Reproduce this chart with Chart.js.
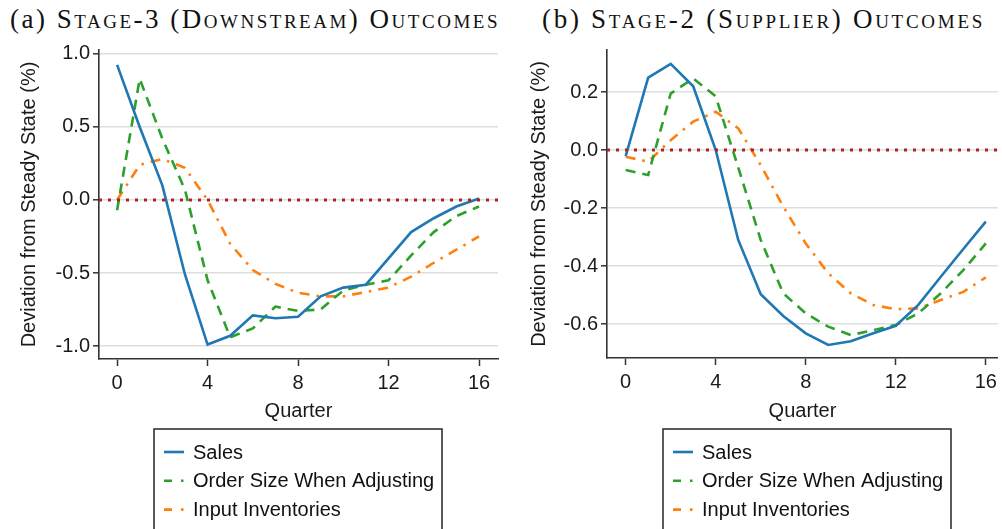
<!DOCTYPE html>
<html>
<head>
<meta charset="utf-8">
<script src="https://cdn.jsdelivr.net/npm/chart.js@4.4.1/dist/chart.umd.min.js"></script>
<style>
  html, body { margin: 0; padding: 0; background: #fff; }
  #wrap { position: relative; width: 1002px; height: 529px; overflow: hidden; }
  .panel-title {
    position: absolute; top: 6px; line-height: 1;
    font-family: "Liberation Serif", "DejaVu Serif", serif;
    font-size: 27px; color: #111;
    white-space: nowrap;
  }
  .panel-title .sc { font-variant: small-caps; }
  canvas { position: absolute; top: 0; }
</style>
</head>
<body>
<div id="wrap">
  <div class="panel-title" id="titleA" style="left:10px" data-width="490">(a) <span class="sc">Stage-3 (Downstream) Outcomes</span></div>
  <div class="panel-title" id="titleB" style="left:542px" data-width="443">(b) <span class="sc">Stage-2 (Supplier) Outcomes</span></div>
  <canvas id="chartA" width="501" height="529" style="left:0"></canvas>
  <canvas id="chartB" width="501" height="529" style="left:501px"></canvas>
</div>
<script>
// Dados
const quarters = [0, 1, 2, 3, 4, 5, 6, 7, 8, 9, 10, 11, 12, 13, 14, 15, 16];
const seriesNames = ['Sales', 'Order Size When Adjusting', 'Input Inventories'];

// (a) Stage-3 (Downstream)
const salesA = [0.925, 0.50, 0.10, -0.51, -0.99, -0.93, -0.79, -0.81, -0.80, -0.66, -0.60, -0.58, -0.40, -0.22, -0.125, -0.045, 0.01];
const orderA = [-0.07, 0.83, 0.42, 0.07, -0.55, -0.94, -0.88, -0.73, -0.76, -0.75, -0.62, -0.58, -0.55, -0.38, -0.22, -0.11, -0.045];
const invA = [0.0, 0.24, 0.28, 0.22, 0.0, -0.30, -0.48, -0.575, -0.635, -0.66, -0.66, -0.63, -0.60, -0.525, -0.43, -0.34, -0.25];

// (b) Stage-2 (Supplier)
const salesB = [-0.021, 0.25, 0.297, 0.22, 0.0, -0.31, -0.497, -0.572, -0.632, -0.672, -0.659, -0.632, -0.606, -0.534, -0.437, -0.341, -0.247];
const orderB = [-0.069, -0.086, 0.195, 0.247, 0.185, -0.06, -0.31, -0.494, -0.563, -0.609, -0.638, -0.621, -0.603, -0.563, -0.494, -0.414, -0.322];
const invB = [-0.023, -0.04, 0.034, 0.098, 0.132, 0.075, -0.052, -0.195, -0.322, -0.425, -0.494, -0.534, -0.549, -0.546, -0.517, -0.489, -0.439];

// Ticks
const xTicks = [0, 4, 8, 12, 16];
const yTicksA = [-1.0, -0.5, 0.0, 0.5, 1.0];
const yTicksB = [-0.6, -0.4, -0.2, 0.0, 0.2];

const COLORS = { sales: '#1f77b4', order: '#2ca02c', inv: '#ff7f0e', zero: '#b22222' };
const DASHES = { sales: [], order: [10, 7], inv: [10, 7, 2.5, 7] };
const SANS = '"Liberation Sans", Arial, sans-serif';
const FONT_SIZE = 20;

Chart.defaults.font.family = SANS;
Chart.defaults.color = '#1a1a1a';

// Ajusta o espaçamento dos títulos para a largura do original
document.querySelectorAll('.panel-title').forEach(el => {
    const target = parseFloat(el.dataset.width);
    const w = el.getBoundingClientRect().width;
    const n = el.textContent.length;
    el.style.letterSpacing = ((target - w) / n) + 'px';
});

/**
 * Legenda em caixa desenhada abaixo do gráfico
 * ======================================================================== */
const boxLegend = {
    id: 'boxLegend',
    afterDraw(chart, args, opts) {
        const ctx = chart.ctx;
        ctx.save();
        ctx.strokeStyle = '#333';
        ctx.lineWidth = 1.6;
        ctx.strokeRect(opts.left, opts.top, opts.right - opts.left, 200);
        const items = chart.data.datasets.filter(d => d.inLegend);
        ctx.font = FONT_SIZE + 'px ' + SANS;
        ctx.textBaseline = 'middle';
        items.forEach((d, i) => {
            const y = opts.top + 23 + i * 28.8;
            ctx.beginPath();
            ctx.strokeStyle = d.borderColor;
            ctx.lineWidth = 2.6;
            // amostra curta: traço + ponto
            ctx.setLineDash(d.borderDash.length ? [8, 9, 2.5, 30] : []);
            ctx.moveTo(opts.left + 10, y);
            ctx.lineTo(opts.left + 30, y);
            ctx.stroke();
            ctx.setLineDash([]);
            ctx.fillStyle = '#111';
            ctx.fillText(d.label, opts.left + 39, y + 1);
        });
        ctx.restore();
    }
};

function toPoints(values) {
    return quarters.map((q, i) => ({ x: q, y: values[i] }));
}

function makeChart(canvasId, cfg) {
    const datasets = [
        { label: 'zero', data: [{ x: cfg.xMin, y: 0 }, { x: cfg.xMax, y: 0 }],
          borderColor: COLORS.zero, borderWidth: 3, borderDash: [3, 6], inLegend: false },
        { label: seriesNames[0], data: toPoints(cfg.sales), borderColor: COLORS.sales,
          borderWidth: 2.6, borderDash: DASHES.sales, inLegend: true },
        { label: seriesNames[1], data: toPoints(cfg.order), borderColor: COLORS.order,
          borderWidth: 2.6, borderDash: DASHES.order, inLegend: true },
        { label: seriesNames[2], data: toPoints(cfg.inv), borderColor: COLORS.inv,
          borderWidth: 2.6, borderDash: DASHES.inv, inLegend: true }
    ];

    return new Chart(document.getElementById(canvasId), {
        type: 'line',
        data: { datasets: datasets },
        plugins: [boxLegend],
        options: {
            responsive: false,
            animation: false,
            layout: { padding: { left: 0, top: 50, right: cfg.padRight, bottom: 0 } },
            elements: { point: { radius: 0 }, line: { tension: 0, fill: false } },
            plugins: {
                legend: { display: false },
                tooltip: { enabled: false },
                boxLegend: cfg.legendBox
            },
            scales: {
                x: {
                    type: 'linear',
                    min: cfg.xMin,
                    max: cfg.xMax,
                    afterBuildTicks: s => { s.ticks = xTicks.map(v => ({ value: v })); },
                    afterFit: s => { s.height = cfg.xHeight; },
                    border: { display: true, color: '#333', width: 1.6 },
                    grid: { drawOnChartArea: false, drawTicks: true, tickLength: 7, tickColor: '#333', tickWidth: 1.5 },
                    ticks: { font: { size: FONT_SIZE }, color: '#1a1a1a', padding: 5, maxRotation: 0 },
                    title: { display: true, text: 'Quarter', font: { size: FONT_SIZE }, color: '#1a1a1a',
                             padding: { top: 0, bottom: 106 } }
                },
                y: {
                    min: cfg.yMin,
                    max: cfg.yMax,
                    afterBuildTicks: s => { s.ticks = cfg.yTicks.map(v => ({ value: v })); },
                    afterFit: s => { s.width = cfg.yWidth; },
                    border: { display: true, color: '#333', width: 1.6 },
                    grid: { color: '#dedede', lineWidth: 1.6, tickLength: 6, tickColor: '#333', tickWidth: 1.5 },
                    ticks: { font: { size: FONT_SIZE }, color: '#1a1a1a', padding: 3,
                             callback: v => Number(v).toFixed(1) },
                    title: { display: true, text: 'Deviation from Steady State (%)', font: { size: FONT_SIZE },
                             color: '#1a1a1a', padding: { top: cfg.yTitlePad, bottom: 0 } }
                }
            }
        }
    });
}

makeChart('chartA', {
    sales: salesA, order: orderA, inv: invA,
    xMin: -0.8, xMax: 16.84, yMin: -1.089, yMax: 1.027, yTicks: yTicksA,
    yWidth: 99, xHeight: 170, padRight: 3, yTitlePad: 17,
    legendBox: { left: 154, top: 429, right: 442 }
});

makeChart('chartB', {
    sales: salesB, order: orderB, inv: invB,
    xMin: -0.83, xMax: 16.54, yMin: -0.717, yMax: 0.345, yTicks: yTicksB,
    yWidth: 106, xHeight: 171, padRight: 2, yTitlePad: 26,
    legendBox: { left: 162, top: 429, right: 450 }
});
</script>
</body>
</html>
